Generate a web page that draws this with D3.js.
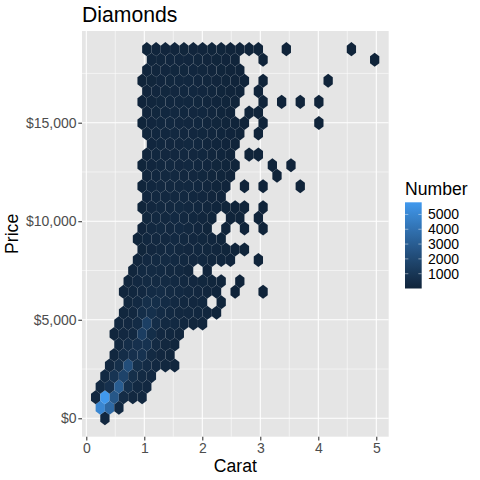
<!DOCTYPE html>
<html>
<head>
<meta charset="utf-8">
<title>Diamonds</title>
<script src="https://cdn.jsdelivr.net/npm/d3@7"></script>
<style>
  html, body { margin: 0; padding: 0; background: #fff; }
  svg { display: block; }
  text { font-family: "Liberation Sans", Arial, sans-serif; }
</style>
</head>
<body>
<div id="chart"></div>
<script>
// Chart text
const chartTitle = "Diamonds";
const xTitle = "Carat";
const yTitle = "Price";
const legendTitle = "Number";

// Axis ticks
const caratTicks = [0, 1, 2, 3, 4, 5];
const caratMinor = [0.5, 1.5, 2.5, 3.5, 4.5];
const priceTicks = [0, 5000, 10000, 15000];
const priceMinor = [2500, 7500, 12500, 17500];
const legendTicks = [1000, 2000, 3000, 4000, 5000];

// Hexagon centres: carat positions (half-bin spacing) and price rows
const caratBins = [
  0.161, 0.241, 0.321, 0.401, 0.481, 0.562, 0.642, 0.722, 0.802, 0.882,
  0.962, 1.043, 1.123, 1.203, 1.283, 1.363, 1.444, 1.524, 1.604, 1.684,
  1.764, 1.845, 1.925, 2.005, 2.085, 2.165, 2.246, 2.326, 2.406, 2.486,
  2.566, 2.647, 2.727, 2.807, 2.887, 2.967, 3.048, 3.128, 3.208, 3.288,
  3.368, 3.449, 3.529, 3.609, 3.689, 3.769, 3.85, 3.93, 4.01, 4.09,
  4.17, 4.251, 4.331, 4.411, 4.491, 4.571, 4.652, 4.732, 4.812, 4.892, 4.972
];
const priceBins = [
  0, 535, 1070, 1606, 2141, 2676, 3211, 3746, 4282, 4817, 5352, 5887,
  6422, 6958, 7493, 8028, 8563, 9098, 9634, 10169, 10704, 11239, 11774, 12310,
  12845, 13380, 13915, 14450, 14986, 15521, 16056, 16591, 17126, 17662, 18197, 18732
];

// First carat position of each price row; counts then run every second position
const rowStart = [
  2, 1, 0, 1, 2, 3, 4, 5, 4, 5, 6, 7,
  6, 7, 8, 9, 10, 9, 10, 11, 10, 11, 10, 11,
  10, 11, 12, 11, 10, 11, 10, 11, 10, 11, 12, 11
];

// Diamonds per hexagon, one list per price row; 0 leaves the cell empty
const rowCounts = [
  [180],
  [5000, 3600, 300],
  [250, 5800, 2700, 450, 220, 220],
  [300, 700, 3000, 650, 300, 250],
  [280, 900, 1700, 600, 350, 250],
  [220, 600, 2200, 600, 400, 250, 180, 120],
  [180, 500, 700, 800, 350, 200, 130],
  [220, 500, 700, 800, 350, 200, 130],
  [120, 250, 300, 1400, 550, 250, 170, 120],
  [180, 250, 400, 1500, 500, 280, 280, 170, 100, 100],
  [160, 220, 550, 650, 400, 280, 240, 220, 180, 110, 40],
  [160, 280, 600, 550, 400, 280, 240, 200, 170, 0, 30],
  [100, 180, 250, 400, 450, 350, 280, 240, 200, 130, 60, 0, 5, 0, 0, 3],
  [100, 250, 350, 350, 320, 280, 240, 200, 150, 90, 40, 0, 4],
  [130, 280, 320, 280, 240, 220, 130, 0, 20],
  [110, 250, 280, 320, 280, 240, 200, 170, 110, 60, 20, 0, 0, 4],
  [90, 200, 240, 280, 240, 200, 180, 150, 100, 50, 15, 6],
  [30, 170, 230, 240, 280, 240, 200, 150, 100, 40],
  [80, 230, 260, 240, 280, 230, 140, 50, 0, 15, 0, 4, 0, 3],
  [150, 240, 230, 280, 240, 180, 110, 50, 0, 10, 5, 0, 3],
  [50, 190, 240, 230, 260, 230, 180, 100, 60, 35, 12, 6, 0, 2],
  [140, 220, 220, 240, 230, 180, 140, 80, 25],
  [30, 170, 230, 240, 230, 240, 180, 130, 50, 25, 0, 3, 0, 2, 0, 0, 0, 1],
  [130, 180, 230, 230, 200, 200, 150, 90, 40, 15, 0, 0, 0, 0, 2],
  [40, 140, 180, 230, 200, 230, 180, 140, 90, 45, 8, 0, 0, 0, 2, 0, 1],
  [110, 170, 200, 200, 230, 200, 180, 110, 60, 15, 0, 3, 2],
  [140, 180, 200, 200, 230, 180, 110, 60, 25, 6],
  [90, 170, 180, 240, 200, 200, 150, 130, 60, 20, 5, 0, 2],
  [30, 140, 170, 220, 200, 200, 180, 130, 90, 35, 15, 4, 0, 2, 0, 0, 0, 0, 0, 1],
  [80, 150, 170, 230, 180, 190, 170, 110, 50, 15, 0, 3, 2],
  [20, 130, 150, 180, 170, 180, 150, 110, 60, 30, 6, 0, 0, 2, 0, 1, 0, 1, 0, 1],
  [80, 140, 160, 190, 180, 180, 140, 100, 45, 15, 4, 0, 2],
  [15, 90, 140, 160, 170, 170, 140, 100, 70, 30, 10, 2, 0, 3, 0, 0, 0, 0, 0, 0, 1],
  [60, 120, 140, 160, 160, 140, 110, 85, 35, 12, 4],
  [100, 110, 140, 140, 140, 130, 80, 45, 20, 4, 0, 0, 2, 0, 0, 0, 0, 0, 0, 0, 0, 0, 0, 0, 1],
  [40, 60, 70, 80, 90, 80, 70, 50, 30, 15, 8, 5, 2, 0, 0, 1, 0, 0, 0, 0, 0, 0, 1]
];

const countRange = [1, 5820];
const lowColor = "#10243a";
const highColor = "#4199ee";

const width = 480, height = 480;
const panel = { left: 82, right: 388.7, top: 31, bottom: 436.7 };

const x = d3.scaleLinear().domain([-0.0741, 5.214]).range([panel.left, panel.right]);
const y = d3.scaleLinear().domain([-934, 19653]).range([panel.bottom, panel.top]);
const fill = d3.scaleLinear().domain(countRange).range([lowColor, highColor])
  .interpolate(d3.interpolateLab);

const svg = d3.select("#chart").append("svg")
  .attr("width", width).attr("height", height);

svg.append("rect").attr("width", width).attr("height", height).attr("fill", "#fff");

// Panel background and grid
svg.append("rect")
  .attr("x", panel.left).attr("y", panel.top)
  .attr("width", panel.right - panel.left).attr("height", panel.bottom - panel.top)
  .attr("fill", "#e5e5e5");

const grid = svg.append("g").attr("stroke", "#fff").attr("fill", "none");
const vLine = (w) => (sel) => sel.append("line")
  .attr("x1", d => x(d)).attr("x2", d => x(d))
  .attr("y1", panel.top).attr("y2", panel.bottom).attr("stroke-width", w);
const hLine = (w) => (sel) => sel.append("line")
  .attr("y1", d => y(d)).attr("y2", d => y(d))
  .attr("x1", panel.left).attr("x2", panel.right).attr("stroke-width", w);
grid.selectAll(".vmin").data(caratMinor).join("g").call(vLine(0.53));
grid.selectAll(".hmin").data(priceMinor).join("g").call(hLine(0.53));
grid.selectAll(".vmaj").data(caratTicks).join("g").call(vLine(1.07));
grid.selectAll(".hmaj").data(priceTicks).join("g").call(hLine(1.07));

// Flatten the rows into one record per occupied hexagon
const hexes = rowCounts.flatMap((counts, r) =>
  counts.map((count, i) => ({
    carat: caratBins[rowStart[r] + i * 2],
    price: priceBins[r],
    count
  })).filter(d => d.count > 0)
);

const dx = x(caratBins[1]) - x(caratBins[0]);
const dy = y(priceBins[0]) - y(priceBins[1]);
const hexPath = d3.line()([
  [0, -dy * 2 / 3], [dx, -dy / 3], [dx, dy / 3],
  [0, dy * 2 / 3], [-dx, dy / 3], [-dx, -dy / 3]
]) + "Z";

svg.append("g").selectAll("path").data(hexes).join("path")
  .attr("d", hexPath)
  .attr("transform", d => `translate(${x(d.carat)},${y(d.price)})`)
  .attr("fill", d => fill(d.count));

// Axes
const xAxis = d3.axisBottom(x).tickValues(caratTicks).tickSize(3.7).tickPadding(3)
  .tickFormat(d3.format("d"));
const yAxis = d3.axisLeft(y).tickValues(priceTicks).tickSize(3.7).tickPadding(1.8)
  .tickFormat(d => "$" + d3.format(",")(d));

const styleAxis = (g) => {
  g.select(".domain").remove();
  g.selectAll("line").attr("stroke", "#333").attr("stroke-width", 1.07);
  g.selectAll("text").attr("fill", "#4d4d4d").attr("font-size", 14)
    .style("font-family", '"Liberation Sans", Arial, sans-serif');
};
svg.append("g").attr("transform", `translate(0,${panel.bottom})`).call(xAxis).call(styleAxis);
svg.append("g").attr("transform", `translate(${panel.left},0)`).call(yAxis).call(styleAxis);

// Titles
svg.append("text").attr("x", panel.left).attr("y", 22)
  .attr("font-size", 21.2).attr("fill", "#000").text(chartTitle);
svg.append("text").attr("x", (panel.left + panel.right) / 2).attr("y", 472)
  .attr("text-anchor", "middle").attr("font-size", 17.6).attr("fill", "#000").text(xTitle);
svg.append("text")
  .attr("transform", `translate(18,${(panel.top + panel.bottom) / 2}) rotate(-90)`)
  .attr("text-anchor", "middle").attr("font-size", 17.6).attr("fill", "#000").text(yTitle);

// Colour legend
const legend = { left: 405, right: 421.7, top: 202.3, bottom: 288.5 };
const legendY = d3.scaleLinear().domain(countRange).range([legend.bottom, legend.top]);

const gradient = svg.append("defs").append("linearGradient")
  .attr("id", "number-gradient")
  .attr("x1", 0).attr("y1", 1).attr("x2", 0).attr("y2", 0);
gradient.selectAll("stop").data(d3.range(0, 1.0001, 0.05)).join("stop")
  .attr("offset", d => d)
  .attr("stop-color", d => fill(countRange[0] + d * (countRange[1] - countRange[0])));

svg.append("rect")
  .attr("x", legend.left).attr("y", legend.top)
  .attr("width", legend.right - legend.left).attr("height", legend.bottom - legend.top)
  .attr("fill", "url(#number-gradient)");

const tickLen = (legend.right - legend.left) / 5;
const legendMarks = svg.append("g").attr("stroke", "#fff").attr("stroke-opacity", 0.75).attr("stroke-width", 0.6);
legendTicks.forEach(t => {
  legendMarks.append("line").attr("x1", legend.left).attr("x2", legend.left + tickLen)
    .attr("y1", legendY(t)).attr("y2", legendY(t));
  legendMarks.append("line").attr("x1", legend.right - tickLen).attr("x2", legend.right)
    .attr("y1", legendY(t)).attr("y2", legendY(t));
});

svg.append("g").selectAll("text").data(legendTicks).join("text")
  .attr("x", 428).attr("y", d => legendY(d)).attr("dy", "0.36em")
  .attr("font-size", 14).attr("fill", "#000").text(d => d);

svg.append("text").attr("x", 405).attr("y", 195)
  .attr("font-size", 17.6).attr("fill", "#000").text(legendTitle);
</script>
</body>
</html>
